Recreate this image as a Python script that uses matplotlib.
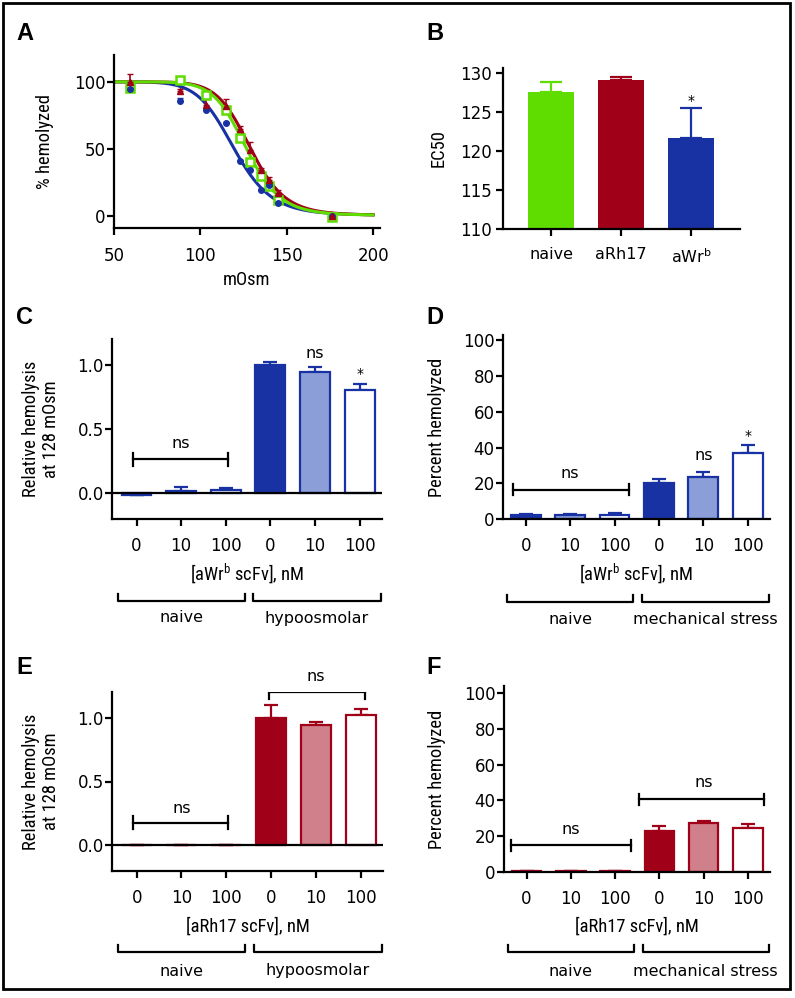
import numpy as np
import matplotlib
matplotlib.use("Agg")
import matplotlib.pyplot as plt
from matplotlib import font_manager
from matplotlib.transforms import blended_transform_factory
from matplotlib.patches import Rectangle

# ---------------- data ----------------
# Panel A: osmotic fragility curves
mosm = [59, 88, 103, 115, 123, 129, 135, 140, 145, 176]
lys_naive = [95.5, 101, 90, 79, 58, 40, 30, 22, 12, -0.5]
lys_rh17 = [100, 93, 83, 82, 65, 49, 34, 27, 17, 0]
lys_rh17_err = [6, 2, 5, 5, 2, 6, 2, 2, 2, 1]
lys_wrb = [95, 86, 79, 69, 41, 34, 19, 23, 10, 0]
lys_wrb_err = [1, 2, 1, 1, 1, 1, 1, 1, 1, 1]
# fitted curve parameters (EC50, hill slope)
fit_naive = (126.7, 13)
fit_rh17 = (129.1, 13)
fit_wrb = (119.5, 11)

# Panel B
b_groups = ["naive", "aRh17", "aWr$\\mathregular{^b}$"]
b_ec50 = [127.6, 129.1, 121.7]
b_err = [1.2, 0.4, 3.8]

# Panels C-F
conc_labels = ["0", "10", "100", "0", "10", "100"]
c_vals = [-0.015, 0.02, 0.025, 1.0, 0.94, 0.80]
c_err = [0.0, 0.03, 0.02, 0.02, 0.04, 0.05]
d_vals = [2.5, 2.5, 2.5, 20, 23.5, 37]
d_err = [0.5, 0.5, 1.0, 2.2, 3.0, 4.5]
e_vals = [0.0, 0.005, 0.005, 1.0, 0.945, 1.02]
e_err = [0.0, 0.0, 0.0, 0.10, 0.02, 0.05]
f_vals = [0.5, 0.5, 0.5, 23, 27.5, 24.5]
f_err = [0.0, 0.0, 0.0, 3.0, 1.0, 2.5]

GREEN = "#5fdc00"
RED = "#a00018"
LRED = "#d0808a"
BLUE = "#1832a3"
LBLUE = "#8c9ed8"

# ---------------- fonts ----------------
names = sorted({f.name for f in font_manager.fontManager.ttflist})
prefer = ["Liberation Sans Narrow", "DejaVu Sans Condensed", "Roboto Condensed",
          "Open Sans Condensed"]
narrow = [n for n in prefer if n in names] + \
         [n for n in names if "Narrow" in n or "Condensed" in n]
NARROW = narrow[0] if narrow else "Liberation Sans"
LAB = 11 if NARROW == "Liberation Sans" else 13.3
plt.rcParams["font.family"] = ["DejaVu Sans"]
plt.rcParams["axes.linewidth"] = 1.6

W, H = 795, 998
fig = plt.figure(figsize=(W / 100, H / 100), dpi=100)


def add_ax(left, top, right, bottom):
    ax = fig.add_axes([left / W, 1 - bottom / H, (right - left) / W, (bottom - top) / H])
    ax.px = (left, top, right, bottom)
    return ax


def style(ax):
    for s in ["top", "right"]:
        ax.spines[s].set_visible(False)
    ax.tick_params(direction="out", length=5, width=1.6, labelsize=12, color="black")


def labels(ax, xlab, ylab, x_py, y_px):
    l, t, r, b = ax.px
    ax.set_xlabel(xlab, family=NARROW, fontsize=LAB, va="center")
    ax.xaxis.set_label_coords(0.5, (b - x_py) / (b - t))
    ax.set_ylabel(ylab, family=NARROW, fontsize=LAB, va="center", linespacing=1.2)
    ax.yaxis.set_label_coords((y_px - l) / (r - l), 0.5)


def panel_letter(x, y, s):
    fig.text(x / W, 1 - y / H, s, fontsize=17, fontweight="bold",
             family="Liberation Sans", ha="left", va="center")


def bracket(ax, x0, x1, y, tick):
    ax.plot([x0, x1], [y, y], color="black", lw=1.6)
    ax.plot([x0, x0], [y - tick, y + tick], color="black", lw=1.6)
    ax.plot([x1, x1], [y - tick, y + tick], color="black", lw=1.6)


def group_brackets(ax, y_px, lab_px, labs):
    tr = blended_transform_factory(ax.transData, fig.transFigure)
    yb = 1 - y_px / H
    yt = 1 - (y_px - 7) / H
    for (x0, x1), lab in zip([(-0.42, 2.42), (2.62, 5.47)], labs):
        ax.plot([x0, x0, x1, x1], [yt, yb, yb, yt], color="black", lw=1.6,
                transform=tr, clip_on=False)
        ax.text((x0 + x1) / 2, 1 - lab_px / H, lab, transform=tr, ha="center",
                va="center", fontsize=11.5)


def bar_panel(ax, vals, errs, dark, light):
    x = np.arange(len(vals))
    faces = [dark, light, "white", dark, light, "white"]
    ax.bar(x, vals, width=0.67, color=faces, edgecolor=dark, linewidth=1.6, zorder=2)
    up = [e if v >= 0 else 0 for v, e in zip(vals, errs)]
    ax.errorbar(x, vals, yerr=[np.zeros(len(vals)), up], fmt="none", ecolor=dark,
                elinewidth=1.6, capsize=5, capthick=1.6, zorder=1)
    ax.set_xticks(x)
    ax.set_xticklabels(conc_labels)
    ax.set_xlim(-0.55, 5.5)
    ax.tick_params(axis="x", pad=8)


# ---------------- Panel A ----------------
ax = add_ax(114, 55, 380, 228)
style(ax)
xs = np.linspace(50, 200, 300)
for (ec, h), col in [(fit_wrb, BLUE), (fit_rh17, RED), (fit_naive, GREEN)]:
    ax.plot(xs, 0.5 + 99.5 / (1 + (xs / ec) ** h), color=col, lw=2.2)
ax.errorbar(mosm, lys_wrb, yerr=[np.zeros(10), lys_wrb_err], fmt="o", ms=4,
            color=BLUE, capsize=2, elinewidth=1.2)
ax.errorbar(mosm, lys_rh17, yerr=[np.zeros(10), lys_rh17_err], fmt="^", ms=4,
            color=RED, capsize=2.5, elinewidth=1.2)
ax.plot(mosm, lys_naive, "s", ms=5.5, mfc="white", mec=GREEN, mew=1.8)
ax.set_xlim(50, 204)
ax.set_ylim(-9, 120)
ax.set_xticks([50, 100, 150, 200])
ax.set_yticks([0, 50, 100])
ax.tick_params(axis="x", pad=9)
ax.tick_params(axis="y", pad=1)
labels(ax, "mOsm", "% hemolyzed", 280, 45)
panel_letter(16, 33, "A")

# ---------------- Panel B ----------------
ax = add_ax(503, 68, 740, 229)
style(ax)
xb = np.arange(3)
b_cols = [GREEN, RED, BLUE]
ax.bar(xb, b_ec50, width=0.66, color=b_cols, zorder=2)
for xi, v, e, c in zip(xb, b_ec50, b_err, b_cols):
    ax.errorbar([xi], [v], yerr=[[0], [e]], fmt="none", ecolor=c,
                elinewidth=1.6, capsize=8, capthick=1.6, zorder=1)
ax.set_ylim(110, 130.64)
ax.set_xlim(-0.69, 2.7)
ax.set_yticks([110, 115, 120, 125, 130])
ax.set_xticks(xb)
ax.set_xticklabels(b_groups)
ax.tick_params(axis="x", pad=8, labelsize=11.5)
ax.tick_params(axis="y", pad=3)
ax.set_ylabel("EC50", family=NARROW, fontsize=LAB, va="center")
ax.yaxis.set_label_coords((439 - 503) / (740 - 503), 0.5)
ax.text(2, 126.4, "*", ha="center", va="center", fontsize=10)
panel_letter(426, 33, "B")

# ---------------- Panel C ----------------
ax = add_ax(112, 339, 382, 519)
style(ax)
bar_panel(ax, c_vals, c_err, BLUE, LBLUE)
ax.axhline(0, color="black", lw=1.6, zorder=3)
ax.set_ylim(-0.2, 1.2)
ax.set_yticks([0.0, 0.5, 1.0])
ax.set_yticklabels(["0.0", "0.5", "1.0"])
ax.tick_params(axis="y", pad=1)
bracket(ax, -0.08, 2.05, 0.264, 0.05)
ax.text(1.0, 0.39, "ns", ha="center", va="center", fontsize=11.5)
ax.text(4, 1.09, "ns", ha="center", va="center", fontsize=11.5)
ax.text(5, 0.93, "*", ha="center", va="center", fontsize=10)
labels(ax, "[aWr$\\mathregular{^b}$ scFv], nM", "Relative hemolysis\nat 128 mOsm", 573, 41)
group_brackets(ax, 601, 618, ["naive", "hypoosmolar"])
panel_letter(16, 318, "C")

# ---------------- Panel D ----------------
ax = add_ax(503, 335, 770, 519)
style(ax)
bar_panel(ax, d_vals, d_err, BLUE, LBLUE)
ax.set_xlim(-0.51, 5.5)
ax.set_ylim(0, 103)
ax.set_yticks([0, 20, 40, 60, 80, 100])
ax.tick_params(axis="y", pad=1)
bracket(ax, -0.28, 2.33, 16.4, 3.2)
ax.text(1.0, 25.7, "ns", ha="center", va="center", fontsize=11.5)
ax.text(4, 35.6, "ns", ha="center", va="center", fontsize=11.5)
ax.text(5, 46.3, "*", ha="center", va="center", fontsize=10)
labels(ax, "[aWr$\\mathregular{^b}$ scFv], nM", "Percent hemolyzed", 573, 437)
group_brackets(ax, 602, 619, ["naive", "mechanical stress"])
panel_letter(426, 318, "D")

# ---------------- Panel E ----------------
ax = add_ax(112, 692, 383, 871)
style(ax)
bar_panel(ax, e_vals, e_err, RED, LRED)
ax.axhline(0, color="black", lw=1.6, zorder=3)
ax.set_ylim(-0.2, 1.2)
ax.set_yticks([0.0, 0.5, 1.0])
ax.set_yticklabels(["0.0", "0.5", "1.0"])
ax.tick_params(axis="y", pad=1)
bracket(ax, -0.08, 2.05, 0.177, 0.05)
ax.text(1.0, 0.286, "ns", ha="center", va="center", fontsize=11.5)
bracket(ax, 2.95, 5.1, 1.197, 0.05)
ax.text(4, 1.32, "ns", ha="center", va="center", fontsize=11.5)
labels(ax, "[aRh17 scFv], nM", "Relative hemolysis\nat 128 mOsm", 927, 41)
group_brackets(ax, 952, 971, ["naive", "hypoosmolar"])
panel_letter(16, 668, "E")

# ---------------- Panel F ----------------
ax = add_ax(504, 686, 770, 872)
style(ax)
bar_panel(ax, f_vals, f_err, RED, LRED)
ax.set_xlim(-0.51, 5.5)
ax.set_ylim(0, 104)
ax.set_yticks([0, 20, 40, 60, 80, 100])
ax.tick_params(axis="y", pad=1)
bracket(ax, -0.35, 2.35, 14.9, 3.2)
ax.text(1.0, 23.8, "ns", ha="center", va="center", fontsize=11.5)
bracket(ax, 2.55, 5.36, 40.6, 3.2)
ax.text(4, 49.9, "ns", ha="center", va="center", fontsize=11.5)
labels(ax, "[aRh17 scFv], nM", "Percent hemolyzed", 927, 437)
group_brackets(ax, 952, 971, ["naive", "mechanical stress"])
panel_letter(426, 668, "F")

# outer frame
fig.patches.append(Rectangle((3 / W, 1 - 989 / H), 787 / W, 986 / H, fill=False,
                             edgecolor="black", lw=2, transform=fig.transFigure))

fig.savefig("out.png", dpi=100)
